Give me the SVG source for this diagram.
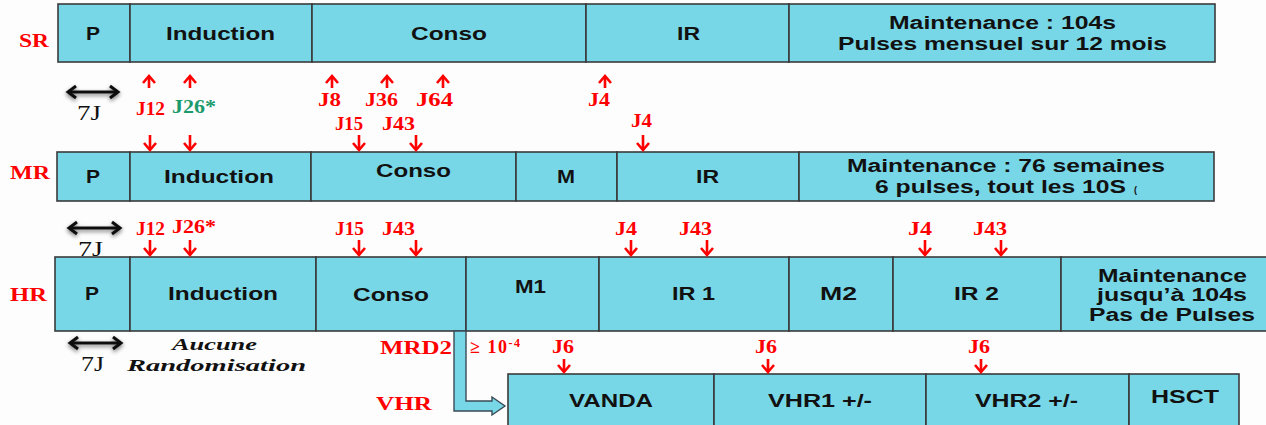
<svg xmlns="http://www.w3.org/2000/svg" width="1266" height="425" viewBox="0 0 1266 425">
  <style>
    .seg { fill: #78d7e7; stroke: #3a3a3a; stroke-width: 1.6; }
    .t { font-family: "Liberation Sans", Arial, sans-serif; font-weight: bold; font-size: 18px; fill: #111; }
    .row { font-family: "Liberation Serif", "Times New Roman", serif; font-weight: bold; font-size: 19px; fill: #ff0000; }
    .j { font-family: "Liberation Serif", "Times New Roman", serif; font-weight: bold; font-size: 18px; fill: #ff0000; }
    .jg { fill: #1b9a6b; }
    .dur { font-family: "Liberation Serif", "Times New Roman", serif; font-size: 20px; fill: #111; }
    .note { font-family: "Liberation Serif", "Times New Roman", serif; font-style: italic; font-weight: bold; font-size: 17px; fill: #111; }
    .up, .down { stroke: #ff0000; stroke-width: 2.6; fill: none; marker-end: url(#redHead); }
    .span { stroke: #111; stroke-width: 3; fill: none; marker-start: url(#blackHead); marker-end: url(#blackHead); }
    .bent { fill: #78d7e7; stroke: #3a4a55; stroke-width: 1.4; }
  </style>
  <defs>
    <marker id="redHead" markerUnits="userSpaceOnUse" viewBox="-10 -10 20 20" markerWidth="20" markerHeight="20" refX="0" refY="0" orient="auto">
      <path d="M-7,-6 L0,0 L-7,6" fill="none" stroke="#ff0000" stroke-width="2.6"/>
    </marker>
    <marker id="blackHead" markerUnits="userSpaceOnUse" viewBox="-12 -12 24 24" markerWidth="24" markerHeight="24" refX="0" refY="0" orient="auto-start-reverse">
      <path d="M-8,-6 L0,0 L-8,6" fill="none" stroke="#111" stroke-width="3"/>
    </marker>
    <filter id="shadow" filterUnits="userSpaceOnUse" x="0" y="0" width="1266" height="425">
      <feGaussianBlur in="SourceAlpha" stdDeviation="2"/>
      <feOffset dx="0" dy="2" result="b"/>
      <feComponentTransfer><feFuncA type="linear" slope="0.55"/></feComponentTransfer>
      <feMerge><feMergeNode/><feMergeNode in="SourceGraphic"/></feMerge>
    </filter>
  </defs>

  <rect width="1266" height="425" fill="#fdfdfd"/>

  <!-- row labels -->
  <g id="row-labels">
    <text class="row" x="19" y="47" textLength="30" lengthAdjust="spacingAndGlyphs">SR</text>
    <text class="row" x="10" y="179" textLength="40" lengthAdjust="spacingAndGlyphs">MR</text>
    <text class="row" x="10" y="301" textLength="37" lengthAdjust="spacingAndGlyphs">HR</text>
    <text class="row" x="376" y="410" textLength="56" lengthAdjust="spacingAndGlyphs">VHR</text>
  </g>

  <!-- SR row -->
  <g id="sr-p"><rect class="seg" x="58" y="4" width="72" height="58"/><text class="t" x="86" y="40" textLength="14" lengthAdjust="spacingAndGlyphs">P</text></g>
  <g id="sr-induction"><rect class="seg" x="130" y="4" width="182" height="58"/><text class="t" x="166" y="40" textLength="109" lengthAdjust="spacingAndGlyphs">Induction</text></g>
  <g id="sr-conso"><rect class="seg" x="312" y="4" width="274" height="58"/><text class="t" x="411" y="40" textLength="76" lengthAdjust="spacingAndGlyphs">Conso</text></g>
  <g id="sr-ir"><rect class="seg" x="586" y="4" width="203" height="58"/><text class="t" x="677" y="40" textLength="23" lengthAdjust="spacingAndGlyphs">IR</text></g>
  <g id="sr-maintenance"><rect class="seg" x="789" y="4" width="426" height="58"/>
    <text class="t" x="889" y="29" textLength="227" lengthAdjust="spacingAndGlyphs">Maintenance : 104s</text>
    <text class="t" x="838" y="50" textLength="329" lengthAdjust="spacingAndGlyphs">Pulses mensuel sur 12 mois</text>
  </g>

  <!-- MR row -->
  <g id="mr-p"><rect class="seg" x="57" y="152" width="73" height="49"/><text class="t" x="86" y="183" textLength="14" lengthAdjust="spacingAndGlyphs">P</text></g>
  <g id="mr-induction"><rect class="seg" x="130" y="152" width="181" height="49"/><text class="t" x="164" y="183" textLength="110" lengthAdjust="spacingAndGlyphs">Induction</text></g>
  <g id="mr-conso"><rect class="seg" x="311" y="152" width="205" height="49"/><text class="t" x="376" y="177" textLength="75" lengthAdjust="spacingAndGlyphs">Conso</text></g>
  <g id="mr-m"><rect class="seg" x="516" y="152" width="101" height="49"/><text class="t" x="557" y="183" textLength="18" lengthAdjust="spacingAndGlyphs">M</text></g>
  <g id="mr-ir"><rect class="seg" x="617" y="152" width="182" height="49"/><text class="t" x="696" y="183" textLength="23" lengthAdjust="spacingAndGlyphs">IR</text></g>
  <g id="mr-maintenance"><rect class="seg" x="799" y="152" width="415" height="49"/>
    <text class="t" x="847" y="172" textLength="318" lengthAdjust="spacingAndGlyphs">Maintenance : 76 semaines</text>
    <text class="t" x="875" y="193" textLength="251" lengthAdjust="spacingAndGlyphs">6 pulses, tout les 10S</text>
    <text class="t" x="1134" y="193" style="font-size:9px">(</text>
  </g>

  <!-- HR row -->
  <g id="hr-p"><rect class="seg" x="55" y="257" width="75" height="74"/><text class="t" x="85" y="300" textLength="14" lengthAdjust="spacingAndGlyphs">P</text></g>
  <g id="hr-induction"><rect class="seg" x="130" y="257" width="186" height="74"/><text class="t" x="168" y="300" textLength="110" lengthAdjust="spacingAndGlyphs">Induction</text></g>
  <g id="hr-conso"><rect class="seg" x="316" y="257" width="150" height="74"/><text class="t" x="353" y="301" textLength="76" lengthAdjust="spacingAndGlyphs">Conso</text></g>
  <g id="hr-m1"><rect class="seg" x="466" y="257" width="133" height="74"/><text class="t" x="515" y="293" textLength="31" lengthAdjust="spacingAndGlyphs">M1</text></g>
  <g id="hr-ir1"><rect class="seg" x="599" y="257" width="190" height="74"/><text class="t" x="672" y="300" textLength="43" lengthAdjust="spacingAndGlyphs">IR 1</text></g>
  <g id="hr-m2"><rect class="seg" x="789" y="257" width="104" height="74"/><text class="t" x="820" y="300" textLength="37" lengthAdjust="spacingAndGlyphs">M2</text></g>
  <g id="hr-ir2"><rect class="seg" x="893" y="257" width="168" height="74"/><text class="t" x="954" y="300" textLength="45" lengthAdjust="spacingAndGlyphs">IR 2</text></g>
  <g id="hr-maintenance"><rect class="seg" x="1061" y="257" width="210" height="74"/>
    <text class="t" x="1098" y="282" textLength="149" lengthAdjust="spacingAndGlyphs">Maintenance</text>
    <text class="t" x="1097" y="301" textLength="150" lengthAdjust="spacingAndGlyphs">jusqu’à 104s</text>
    <text class="t" x="1089" y="321" textLength="166" lengthAdjust="spacingAndGlyphs">Pas de Pulses</text>
  </g>

  <!-- VHR row -->
  <g id="vhr-vanda"><rect class="seg" x="508" y="374" width="206" height="60"/><text class="t" x="569" y="407" textLength="84" lengthAdjust="spacingAndGlyphs">VANDA</text></g>
  <g id="vhr-vhr1"><rect class="seg" x="714" y="374" width="212" height="60"/><text class="t" x="768" y="407" textLength="104" lengthAdjust="spacingAndGlyphs">VHR1 +/-</text></g>
  <g id="vhr-vhr2"><rect class="seg" x="926" y="374" width="203" height="60"/><text class="t" x="975" y="407" textLength="103" lengthAdjust="spacingAndGlyphs">VHR2 +/-</text></g>
  <g id="vhr-hsct"><rect class="seg" x="1129" y="374" width="110" height="60"/><text class="t" x="1151" y="403" textLength="68" lengthAdjust="spacingAndGlyphs">HSCT</text></g>

  <!-- timing labels -->
  <g id="day-labels">
    <text class="j" x="136" y="115" textLength="29" lengthAdjust="spacingAndGlyphs">J12</text>
    <text class="j jg" x="172" y="113" textLength="44" lengthAdjust="spacingAndGlyphs">J26*</text>
    <text class="j" x="318" y="106" textLength="23" lengthAdjust="spacingAndGlyphs">J8</text>
    <text class="j" x="365" y="106" textLength="33" lengthAdjust="spacingAndGlyphs">J36</text>
    <text class="j" x="416" y="106" textLength="37" lengthAdjust="spacingAndGlyphs">J64</text>
    <text class="j" x="588" y="106" textLength="22" lengthAdjust="spacingAndGlyphs">J4</text>
    <text class="j" x="335" y="130" textLength="28" lengthAdjust="spacingAndGlyphs">J15</text>
    <text class="j" x="382" y="130" textLength="33" lengthAdjust="spacingAndGlyphs">J43</text>
    <text class="j" x="631" y="127" textLength="21" lengthAdjust="spacingAndGlyphs">J4</text>

    <text class="j" x="136" y="235" textLength="29" lengthAdjust="spacingAndGlyphs">J12</text>
    <text class="j" x="172" y="233" textLength="44" lengthAdjust="spacingAndGlyphs">J26*</text>
    <text class="j" x="335" y="235" textLength="29" lengthAdjust="spacingAndGlyphs">J15</text>
    <text class="j" x="382" y="235" textLength="33" lengthAdjust="spacingAndGlyphs">J43</text>
    <text class="j" x="615" y="235" textLength="22" lengthAdjust="spacingAndGlyphs">J4</text>
    <text class="j" x="679" y="235" textLength="33" lengthAdjust="spacingAndGlyphs">J43</text>
    <text class="j" x="908" y="235" textLength="24" lengthAdjust="spacingAndGlyphs">J4</text>
    <text class="j" x="973" y="235" textLength="34" lengthAdjust="spacingAndGlyphs">J43</text>

    <text class="j" x="552" y="353" textLength="22" lengthAdjust="spacingAndGlyphs">J6</text>
    <text class="j" x="755" y="353" textLength="22" lengthAdjust="spacingAndGlyphs">J6</text>
    <text class="j" x="968" y="353" textLength="22" lengthAdjust="spacingAndGlyphs">J6</text>

    <text class="j" x="380" y="354" textLength="72" lengthAdjust="spacingAndGlyphs">MRD2</text>
    <text class="j" x="470" y="353" style="font-size:18px;letter-spacing:1.5px">≥ 10<tspan dy="-6" style="font-size:12px">-4</tspan></text>
  </g>

  <!-- prephase durations and note -->
  <g id="prephase-notes">
    <text class="dur" x="77" y="120" textLength="24" lengthAdjust="spacingAndGlyphs">7J</text>
    <text class="dur" x="78" y="256" textLength="25" lengthAdjust="spacingAndGlyphs">7J</text>
    <text class="dur" x="81" y="371" textLength="23" lengthAdjust="spacingAndGlyphs">7J</text>
    <text class="note" x="172" y="350" textLength="85" lengthAdjust="spacingAndGlyphs">Aucune</text>
    <text class="note" x="127" y="371" textLength="179" lengthAdjust="spacingAndGlyphs">Randomisation</text>
  </g>

  <!-- connectors -->
  <g id="connectors">
    <!-- upward day markers under SR -->
    <path class="up" d="M149,88 V76"/>
    <path class="up" d="M190,88 V76"/>
    <path class="up" d="M332,88 V76"/>
    <path class="up" d="M387,88 V76"/>
    <path class="up" d="M443,88 V76"/>
    <path class="up" d="M605,88 V76"/>
    <!-- downward markers onto MR -->
    <path class="down" d="M150,135 V150"/>
    <path class="down" d="M190,135 V150"/>
    <path class="down" d="M359,135 V150"/>
    <path class="down" d="M416,135 V150"/>
    <path class="down" d="M643,135 V150"/>
    <!-- downward markers onto HR -->
    <path class="down" d="M150,240 V255"/>
    <path class="down" d="M190,240 V255"/>
    <path class="down" d="M359,240 V255"/>
    <path class="down" d="M416,240 V255"/>
    <path class="down" d="M631,240 V255"/>
    <path class="down" d="M707,240 V255"/>
    <path class="down" d="M925,240 V255"/>
    <path class="down" d="M1001,240 V255"/>
    <!-- downward markers onto VHR -->
    <path class="down" d="M564,359 V372"/>
    <path class="down" d="M768,359 V372"/>
    <path class="down" d="M981,359 V372"/>
    <!-- 7-day spans -->
    <g filter="url(#shadow)">
      <path class="span" d="M68,92 H118"/>
      <path class="span" d="M69,228 H120"/>
      <path class="span" d="M70,343 H121"/>
    </g>
    <!-- HR to VHR transfer -->
    <path class="bent" d="M454,331 H466 V401 H492 V397 L505,406 L492,415 V411 H454 Z"/>
  </g>
</svg>
